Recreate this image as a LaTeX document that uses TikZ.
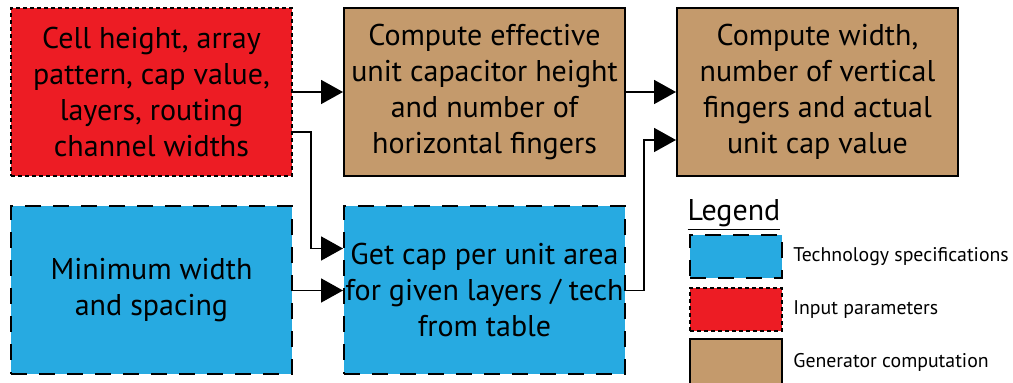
\documentclass[tikz,border=0pt]{standalone}
\usepackage{fontspec}
\setmainfont{PT Sans}
\usetikzlibrary{arrows.meta,positioning}
\definecolor{input}{HTML}{ED1C24}
\definecolor{tech}{HTML}{27AAE1}
\definecolor{gen}{HTML}{C49A6C}

\begin{document}
\begin{tikzpicture}[x=0.5pt,y=-0.5pt,
  block/.style={minimum width=140.5pt,minimum height=84pt,inner sep=0pt,align=center,font=\fontsize{15}{18}\selectfont},
  inbox/.style={fill=input,draw,line width=1pt,dash pattern=on 2pt off 1.5pt},
  techbox/.style={fill=tech,draw,line width=1pt,dash pattern=on 8pt off 6pt},
  genbox/.style={fill=gen,draw,line width=1pt},
  flow/.style={line width=0.9pt,-{Triangle[length=11pt,width=12pt]}},
  swatch/.style={minimum width=46pt,minimum height=21.5pt,inner sep=0pt},
  keytext/.style={anchor=west,inner sep=0pt,font=\fontsize{9.9}{12}\selectfont}]
  \useasboundingbox (0,0) rectangle (1013,383);

  % Inputs and technology data
  \node[block,inbox] (params) at (151.5,92) {Cell height, array\\pattern, cap value,\\layers, routing\\channel widths};
  \node[block,techbox] (minws) at (151.5,290.5) {Minimum width\\and spacing};

  % Generator steps
  \node[block,genbox] (unitcap) at (484.5,92) {Compute effective\\unit capacitor height\\and number of\\horizontal fingers};
  \node[block,techbox] (caparea) at (484.5,290.5) {Get cap per unit area\\for given layers / tech\\from table};
  \node[block,genbox] (width) at (817.5,92) {Compute width,\\number of vertical\\fingers and actual\\unit cap value};

  % Connections
  \draw[flow] (params.east) -- (unitcap.west);
  \draw[flow] ([yshift=-20pt]params.east) -- ++(18,0) |- ([yshift=21pt]caparea.west);
  \draw[flow] (minws.east) -- (caparea.west);
  \draw[flow] (unitcap.east) -- (width.west);
  \draw[flow] (caparea.east) -- ++(18,0) |- ([yshift=-24pt]width.west);

  % Legend
  \node[font=\fontsize{15}{18}\selectfont,inner sep=0pt] (legend) at (734,215) {\underline{Legend}};
  \node[swatch,techbox] (keytech) at (736,256.5) {};
  \node[swatch,inbox] (keyinput) at (736,309.5) {};
  \node[swatch,genbox,minimum height=23pt] (keygen) at (736,362) {};
  \node[keytext] (labtech) at (793,257) {Technology specifications};
  \node[keytext] (labinput) at (793,310) {Input parameters};
  \node[keytext] (labgen) at (793,362) {Generator computation};
\end{tikzpicture}
\end{document}
